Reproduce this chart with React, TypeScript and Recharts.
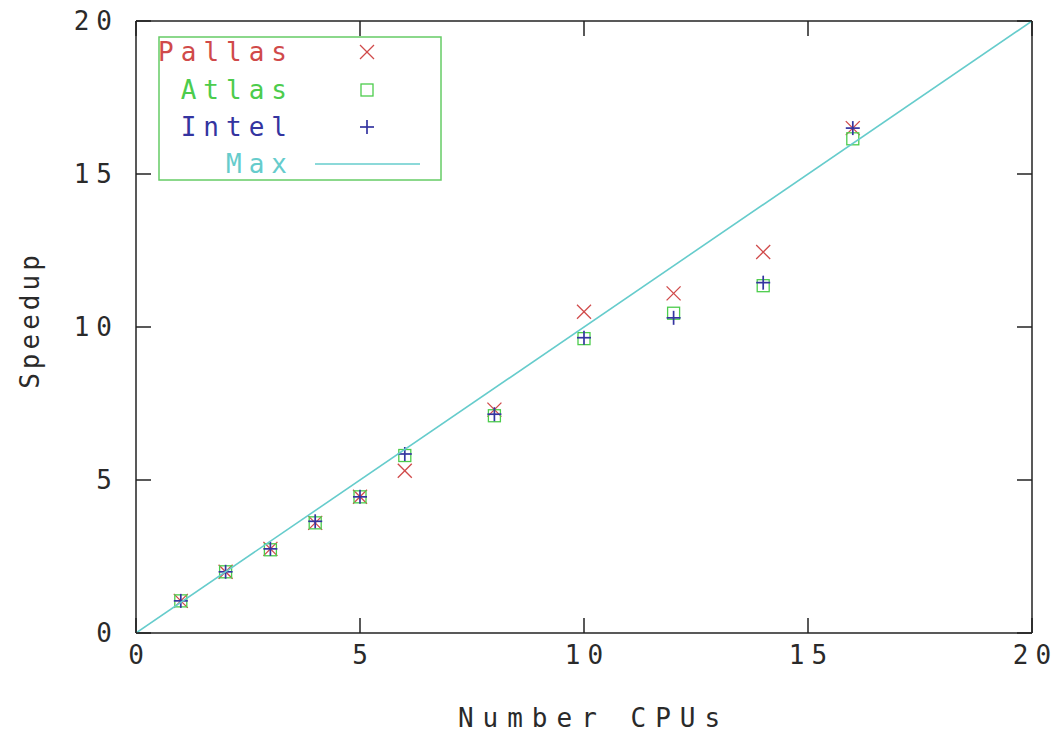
import React from 'react';
import { ScatterChart, Scatter, XAxis, YAxis, ReferenceLine, Legend, Label } from 'recharts';

// ---- data ----
const cpus = [1, 2, 3, 4, 5, 6, 8, 10, 12, 14, 16];
const pallasSpeedup = [1.05, 2.0, 2.75, 3.6, 4.45, 5.3, 7.3, 10.5, 11.1, 12.45, 16.5];
const atlasSpeedup = [1.05, 2.0, 2.72, 3.6, 4.45, 5.8, 7.1, 9.62, 10.45, 11.35, 16.15];
const intelSpeedup = [1.05, 2.0, 2.75, 3.65, 4.45, 5.85, 7.15, 9.65, 10.3, 11.45, 16.5];
const maxX = [0, 20];
const maxY = [0, 20];
const xTicks = [0, 5, 10, 15, 20];
const yTicks = [0, 5, 10, 15, 20];
const seriesNames = ['Pallas', 'Atlas', 'Intel', 'Max'];
const xTitle = 'Number CPUs';
const yTitle = 'Speedup';

// ---- styles ----
const W = 1058;
const H = 744;
const PLOT_LEFT = 136;
const PLOT_RIGHT = 1032;
const PLOT_TOP = 21;
const PLOT_BOTTOM = 633;
const TICK = 15;
const FONT = '"DejaVu Sans Mono", monospace';
const FS = 26;
const LS = 7;
const TEXT = '#2a2a2a';
const FRAME = '#222';
const C_PALLAS = '#d04a4a';
const C_ATLAS = '#4ccc4c';
const C_INTEL = '#3434a0';
const C_MAX = '#66cccc';
const C_KEYBOX = '#66cc66';

const toPoints = (xs: number[], ys: number[]) => xs.map((x, i) => ({ x, y: ys[i] }));
const pallasData = toPoints(cpus, pallasSpeedup);
const atlasData = toPoints(cpus, atlasSpeedup);
const intelData = toPoints(cpus, intelSpeedup);
const maxData = toPoints(maxX, maxY);

const R = 7;

const CrossMark = (cx: number, cy: number, color: string) => (
  <g stroke={color} strokeWidth={1.3} fill="none">
    <line x1={cx - R} y1={cy - R} x2={cx + R} y2={cy + R} />
    <line x1={cx - R} y1={cy + R} x2={cx + R} y2={cy - R} />
  </g>
);
const SquareMark = (cx: number, cy: number, color: string) => (
  <rect x={cx - 6} y={cy - 6} width={12} height={12} stroke={color} strokeWidth={1.3} fill="none" />
);
const PlusMark = (cx: number, cy: number, color: string) => (
  <g stroke={color} strokeWidth={1.7} fill="none">
    <line x1={cx - R} y1={cy} x2={cx + R} y2={cy} />
    <line x1={cx} y1={cy - R} x2={cx} y2={cy + R} />
  </g>
);

const textProps = {
  fontFamily: FONT,
  fontSize: FS,
  letterSpacing: LS,
  fill: TEXT,
};

const XTick = (props: any) => {
  const { x, y, payload } = props;
  return (
    <g>
      <line x1={x} y1={PLOT_BOTTOM} x2={x} y2={PLOT_BOTTOM - TICK} stroke={FRAME} strokeWidth={1.5} />
      <line x1={x} y1={PLOT_TOP} x2={x} y2={PLOT_TOP + TICK} stroke={FRAME} strokeWidth={1.5} />
      <text x={x + LS / 2} y={y} dy="0.72em" textAnchor="middle" {...textProps}>
        {payload.value}
      </text>
    </g>
  );
};

const YTick = (props: any) => {
  const { x, y, payload } = props;
  return (
    <g>
      <line x1={PLOT_LEFT} y1={y} x2={PLOT_LEFT + TICK} y2={y} stroke={FRAME} strokeWidth={1.5} />
      <line x1={PLOT_RIGHT} y1={y} x2={PLOT_RIGHT - TICK} y2={y} stroke={FRAME} strokeWidth={1.5} />
      <text x={x + LS} y={y} dominantBaseline="central" textAnchor="end" {...textProps}>
        {payload.value}
      </text>
    </g>
  );
};

const XTitle = (props: any) => {
  const vb = props.viewBox || {};
  const cx = (vb.x ?? PLOT_LEFT) + (vb.width ?? 0) / 2 + 5;
  const ls = 9;
  return (
    <text x={cx + ls / 2} y={(vb.y ?? PLOT_BOTTOM) + 94} textAnchor="middle" {...textProps} letterSpacing={ls}>
      {xTitle}
    </text>
  );
};

const YTitle = (props: any) => {
  const vb = props.viewBox || {};
  const cy = (vb.y ?? PLOT_TOP) + (vb.height ?? 0) / 2 - 5;
  const cx = 30;
  const ls = 4;
  return (
    <text
      x={cx + ls / 2}
      y={cy}
      transform={`rotate(-90 ${cx} ${cy})`}
      textAnchor="middle"
      dominantBaseline="central"
      {...textProps}
      letterSpacing={ls}
    >
      {yTitle}
    </text>
  );
};

const legendColors = [C_PALLAS, C_ATLAS, C_INTEL, C_MAX];
const legendMarks = [CrossMark, SquareMark, PlusMark, null];

const KeyBox = () => {
  const rows = [16, 54, 91, 128];
  return (
    <svg width={284} height={145} style={{ display: 'block' }}>
      <rect x={1} y={1} width={282} height={143} fill="none" stroke={C_KEYBOX} strokeWidth={1.5} />
      {seriesNames.map((name, i) => {
        const mark = legendMarks[i];
        return (
          <g key={name}>
            <text
              x={129 + LS}
              y={rows[i]}
              dominantBaseline="central"
              textAnchor="end"
              {...textProps}
              fill={legendColors[i]}
            >
              {name}
            </text>
            {mark ? (
              mark(209, rows[i], legendColors[i])
            ) : (
              <line x1={157} y1={rows[i]} x2={262} y2={rows[i]} stroke={legendColors[i]} strokeWidth={1.5} />
            )}
          </g>
        );
      })}
    </svg>
  );
};

export default function App() {
  return (
    <div style={{ position: 'absolute', left: 0, top: 0, width: W, height: H, background: '#fff' }}>
      <ScatterChart
        width={W}
        height={H}
        margin={{ top: PLOT_TOP, right: W - PLOT_RIGHT, left: 0, bottom: 0 }}
      >
        <XAxis
          dataKey="x"
          type="number"
          domain={[0, 20]}
          ticks={xTicks}
          allowDataOverflow
          height={H - PLOT_BOTTOM}
          tickSize={0}
          tickMargin={12}
          tickLine={false}
          axisLine={{ stroke: FRAME, strokeWidth: 1.5 }}
          tick={<XTick />}
          interval={0}
        >
          <Label content={<XTitle />} />
        </XAxis>
        <YAxis
          dataKey="y"
          type="number"
          domain={[0, 20]}
          ticks={yTicks}
          allowDataOverflow
          width={PLOT_LEFT}
          tickSize={0}
          tickMargin={24}
          tickLine={false}
          axisLine={{ stroke: FRAME, strokeWidth: 1.5 }}
          tick={<YTick />}
          interval={0}
        >
          <Label content={<YTitle />} />
        </YAxis>
        <ReferenceLine y={20} stroke={FRAME} strokeWidth={1.5} ifOverflow="visible" />
        <ReferenceLine x={20} stroke={FRAME} strokeWidth={1.5} ifOverflow="visible" />
        <Legend
          layout="vertical"
          align="center"
          verticalAlign="middle"
          wrapperStyle={{ left: 158, top: 36, width: 284, height: 145 }}
          content={() => <KeyBox />}
        />
        <Scatter
          name="Pallas"
          data={pallasData}
          isAnimationActive={false}
          shape={(p: any) => CrossMark(p.cx, p.cy, C_PALLAS)}
        />
        <Scatter
          name="Atlas"
          data={atlasData}
          isAnimationActive={false}
          shape={(p: any) => SquareMark(p.cx, p.cy, C_ATLAS)}
        />
        <Scatter
          name="Intel"
          data={intelData}
          isAnimationActive={false}
          shape={(p: any) => PlusMark(p.cx, p.cy, C_INTEL)}
        />
        <Scatter
          name="Max"
          data={maxData}
          isAnimationActive={false}
          line={{ stroke: C_MAX, strokeWidth: 1.6 }}
          shape={() => <g />}
        />
      </ScatterChart>
    </div>
  );
}
